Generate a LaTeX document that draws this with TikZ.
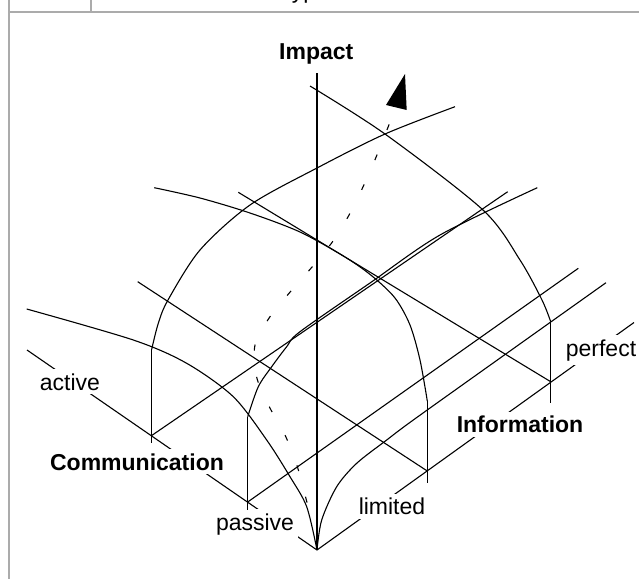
\documentclass[tikz,border=0pt]{standalone}
\usepackage{fontspec}
\setmainfont{Liberation Sans}
\begin{document}
\begin{tikzpicture}[x=0.5pt,y=-0.5pt,
    every path/.style={line width=0.55pt},
    lbl/.style={fill=white,inner sep=2pt,anchor=base,font=\fontsize{11.5}{13}\selectfont},
    axlbl/.style={lbl,font=\fontsize{11.5}{13}\selectfont\bfseries},
    frameline/.style={draw=black!33,line width=1.2pt},
    trail/.style={dash pattern=on 3pt off 13.25pt}]
        % keep the page at the size of the reference
        \useasboundingbox (0,0) rectangle (639,579);

        % Table frame round the picture
        \draw[frameline] (9,0) -- (9,579);
        \draw[frameline] (9,12) -- (639,12);
        \draw[frameline] (91,0) -- (91,12);
        \node[lbl,fill=none,anchor=base west] (head) at (281,-1.5) {type};

        % Origin and the ends of the three axes
        \coordinate (O) at (317,550);
        \coordinate (impEnd) at (317,73);
        \coordinate (comEnd) at (27,350);
        \coordinate (infEnd) at (634,322.5);
        \draw (O) -- (impEnd);
        \draw (O) -- (comEnd);
        \draw (O) -- (infEnd);

        % Axis names and end values (white boxes cut the axes)
        \node[axlbl] (impact) at (316.3,59) {Impact};
        \node[axlbl] (comm) at (137,470) {Communication};
        \node[axlbl] (info) at (520,432.7) {Information};
        \node[lbl] (active) at (70,390) {active};
        \node[lbl] (passive) at (255,530) {passive};
        \node[lbl] (limited) at (392,514.3) {limited};
        \node[lbl] (perfect) at (601,356) {perfect};

        % Points on the floor
        \coordinate (act) at (151.7,435.5);
        \coordinate (pas) at (247.7,502);
        \coordinate (lim) at (427.3,471);
        \coordinate (per) at (550.7,381.7);

        % Uprights at the four points
        \draw (151.7,349.3) coordinate (actTop) -- (151.7,443.3);
        \draw (247.7,416.7) coordinate (pasTop) -- (247.7,510);
        \draw (427.3,401) coordinate (limTop) -- (427.3,483.3);
        \draw (550.7,321.7) coordinate (perTop) -- (550.7,403.3);

        % Floor lines through the points
        \draw (act) -- (507.7,191.7);
        \draw (pas) -- (578.3,268.3);
        \draw (lim) -- (137.7,281.7);
        \draw (per) -- (238.3,192.3);

        % Dome curves
        \draw plot[smooth] coordinates {(151.7,349.3) (158.3,323.3) (168,300)
            (200,250) (250,205) (317,168) (385,134) (455,106.7)};
        \draw plot[smooth] coordinates {(310,86) (385,134) (483,210) (520,260)
            (542,300) (550.7,321.7)};
        \draw plot[smooth] coordinates {(154.3,187.7) (200,198) (250,213) (300,232)
            (345,257) (372,276) (395,298) (410,325) (420,360) (427.3,401)};
        \draw plot[smooth] coordinates {(247.7,416.7) (258.3,386.7) (271.7,366.7)
            (286.7,346.7) (300,331.7) (370,283) (440,235) (537.3,187.7)};

        % Curves rising from the origin
        \draw plot[smooth] coordinates {(317,550) (321.7,520) (336.7,486.7)
            (356.7,463.3) (386.7,440) (413.3,420) (510,351) (606,282.7)};
        \draw plot[smooth] coordinates {(317,550) (306.7,506.7) (290,476.7)
            (266.7,440) (233.3,396.7) (186.7,363.3) (133.3,340) (26.7,309)};

        % Dashed path and its head
        \draw[trail] plot[smooth] coordinates {(307,502.5) (297,465.5) (285,435)
            (269.3,406.7) (256.7,377.3) (255,345) (270,316.7) (291,291)
            (312.3,266.7) (333.3,240.7) (350,213.3) (364.2,184.3) (377.3,154.2)
            (389.3,124) (394,112)};
        \fill (405,74) -- (386,105) -- (406.7,110) -- cycle;
    \end{tikzpicture}
\end{document}
